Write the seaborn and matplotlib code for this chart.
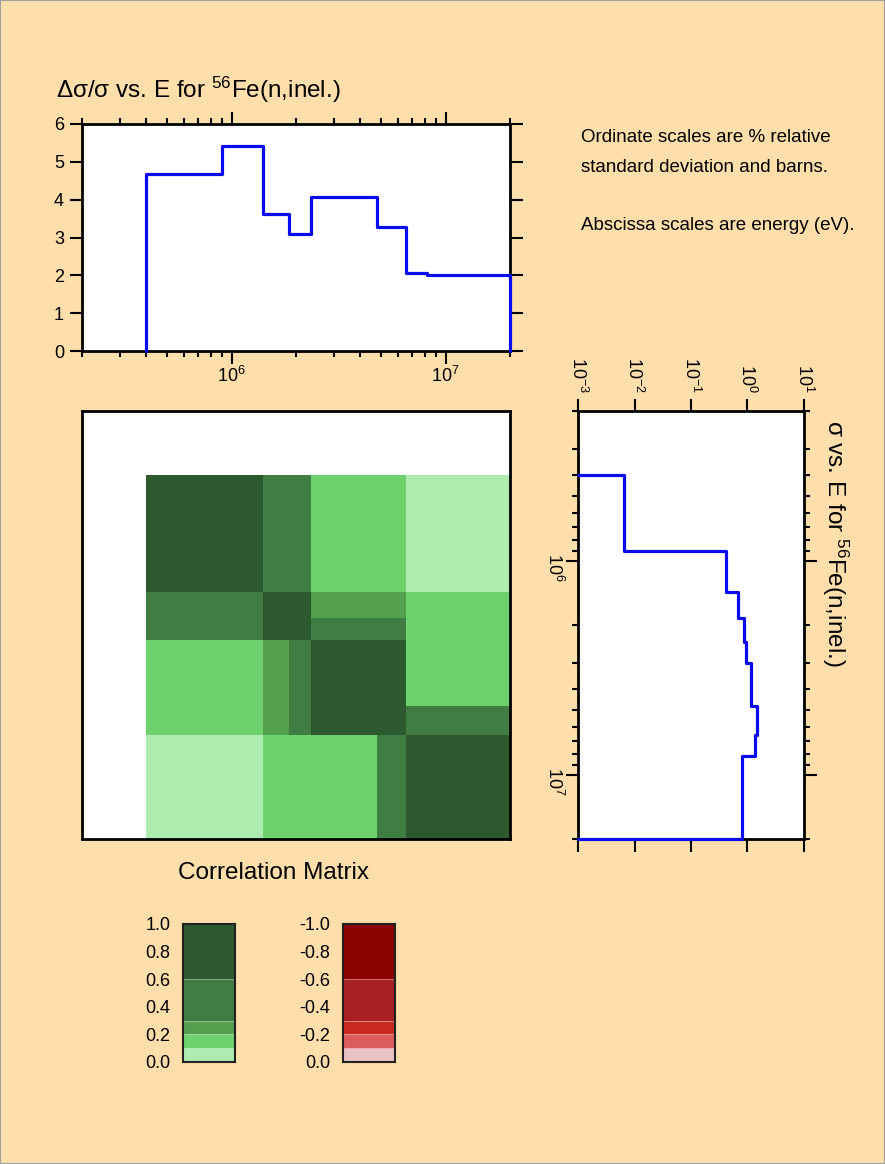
import numpy as np
import matplotlib
matplotlib.use("Agg")
import matplotlib.pyplot as plt
from matplotlib.colors import ListedColormap, BoundaryNorm
from matplotlib.ticker import LogLocator, NullLocator, NullFormatter
import seaborn as sns

# energy range of all plots (eV)
E_MIN, E_MAX = 2e5, 2e7

# % relative standard deviation per group
rsd_edges = [4e5, 9e5, 1.4e6, 1.85e6, 2.35e6, 4.8e6, 6.5e6, 8.2e6, 2e7]
rsd_values = [4.68, 5.43, 3.61, 3.10, 4.06, 3.28, 2.07, 2.00]

# cross section (barns) per group
xs_edges = [4e5, 9e5, 1.4e6, 1.85e6, 2.4e6, 3.0e6, 4.8e6, 6.5e6, 8.2e6, 2e7]
xs_values = [6.4e-3, 0.41, 0.67, 0.86, 0.93, 1.14, 1.46, 1.38, 0.80]
XS_MIN, XS_MAX = 1e-3, 1e1

# correlation matrix (rows = y groups, top to bottom)
cor_edges = [4e5, 1.4e6, 1.85e6, 2.35e6, 4.8e6, 6.5e6, 2e7]
cor_values = [
    [1.00, 0.45, 0.45, 0.15, 0.15, 0.05],
    [0.45, 1.00, 0.70, 0.25, 0.25, 0.15],
    [0.45, 0.70, 1.00, 0.45, 0.45, 0.15],
    [0.15, 0.25, 0.45, 1.00, 0.70, 0.15],
    [0.15, 0.25, 0.45, 0.70, 1.00, 0.45],
    [0.05, 0.15, 0.15, 0.15, 0.45, 1.00],
]

pos_levels = [0.0, 0.1, 0.2, 0.3, 0.6, 1.0]
pos_colors = ["#aeebae", "#6dd26d", "#52a04e", "#3f7d43", "#2c5a2e"]
neg_levels = [0.0, -0.1, -0.2, -0.3, -0.6, -1.0]
neg_colors = ["#e9c3c3", "#dc5c5c", "#c9281f", "#aa1f22", "#8b0000"]
legend_ticks = [0.0, 0.2, 0.4, 0.6, 0.8, 1.0]

BG = "#fedeaa"
LINE = "#0a0aee"

sns.set_theme(style="ticks")
plt.rcParams["font.family"] = ["Liberation Sans", "DejaVu Sans"]
plt.rcParams["mathtext.fontset"] = "custom"
plt.rcParams["mathtext.rm"] = "Liberation Sans"
plt.rcParams["mathtext.default"] = "regular"
plt.rcParams["axes.linewidth"] = 2.0
plt.rcParams["axes.edgecolor"] = "black"
plt.rcParams["text.color"] = "black"
plt.rcParams["xtick.color"] = "black"
plt.rcParams["ytick.color"] = "black"
plt.rcParams["xtick.labelcolor"] = "black"
plt.rcParams["ytick.labelcolor"] = "black"

fig = plt.figure(figsize=(8.85, 11.64), dpi=100, facecolor=BG)
W, H = 885, 1164


def box(x0, y0, x1, y1):
    # pixel box (top-left origin) -> figure rect
    return [x0 / W, 1 - y1 / H, (x1 - x0) / W, (y1 - y0) / H]


def log_ticks(axis, minor=True):
    axis.set_major_locator(LogLocator(base=10))
    if minor:
        axis.set_minor_locator(LogLocator(base=10, subs=np.arange(2, 10)))
    else:
        axis.set_minor_locator(NullLocator())
    axis.set_minor_formatter(NullFormatter())


# --- top: relative std deviation vs energy
ax1 = fig.add_axes(box(82, 124, 510, 351))
ax1.set_facecolor("white")
ax1.set_xscale("log")
sns.lineplot(x=[rsd_edges[0]] + rsd_edges, y=[0.0] + rsd_values + [0.0],
             sort=False, estimator=None, drawstyle="steps-post",
             color=LINE, lw=2.3, ax=ax1, clip_on=False, zorder=3)
ax1.set_xlim(E_MIN, E_MAX)
ax1.set_ylim(0, 6)
ax1.set_yticks(range(7))
log_ticks(ax1.xaxis)
ax1.tick_params(which="both", direction="out", top=True, right=True,
                labelsize=13, width=1.5)
ax1.tick_params(axis="x", which="major", length=9, pad=2)
ax1.tick_params(axis="x", which="minor", length=4)
ax1.tick_params(axis="y", length=9, pad=4)
ax1.set_xlabel("")
ax1.set_ylabel("")

# --- correlation matrix
ax2 = fig.add_axes(box(82, 411, 510, 839))
ax2.set_facecolor("white")
ax2.set_xscale("log")
ax2.set_yscale("log")
cmap = ListedColormap(pos_colors)
norm = BoundaryNorm(pos_levels, cmap.N)
ax2.pcolormesh(cor_edges, cor_edges, np.array(cor_values), cmap=cmap, norm=norm)
ax2.set_xlim(E_MIN, E_MAX)
ax2.set_ylim(E_MAX, E_MIN)
ax2.xaxis.set_major_locator(NullLocator())
ax2.xaxis.set_minor_locator(NullLocator())
ax2.yaxis.set_major_locator(NullLocator())
ax2.yaxis.set_minor_locator(NullLocator())

# --- right: cross section vs energy (rotated)
ax3 = fig.add_axes(box(578, 411, 804, 839))
ax3.set_facecolor("white")
ax3.set_xscale("log")
ax3.set_yscale("log")
sns.lineplot(x=[XS_MIN] + xs_values + [XS_MIN], y=[xs_edges[0]] + xs_edges,
             sort=False, estimator=None, drawstyle="steps-pre",
             color=LINE, lw=2.3, ax=ax3, clip_on=False, zorder=3)
ax3.set_xlim(XS_MIN, XS_MAX)
ax3.set_ylim(E_MAX, E_MIN)
log_ticks(ax3.xaxis, minor=False)
ax3.xaxis.set_major_locator(LogLocator(base=10, numticks=10))
log_ticks(ax3.yaxis)
ax3.tick_params(which="both", direction="out", top=True, bottom=True,
                right=True, left=True, labeltop=True, labelbottom=False,
                labelsize=13, width=1.5, labelrotation=270)
ax3.tick_params(axis="x", length=9, pad=4)
ax3.tick_params(axis="y", which="major", length=9, pad=1)
ax3.tick_params(axis="y", which="minor", length=4)
ax3.set_xlabel("")
ax3.set_ylabel("")

# --- legends
for rect, levels, colors, lim, labels in [
    (box(183, 924, 235, 1062), pos_levels, pos_colors, (0, 1),
     [f"{v:.1f}" for v in legend_ticks]),
    (box(343, 924, 395, 1062), neg_levels, neg_colors, (0, -1),
     ["0.0"] + [f"-{v:.1f}" for v in legend_ticks[1:]]),
]:
    axl = fig.add_axes(rect)
    axl.bar(0, np.diff(levels), bottom=levels[:-1], width=1, color=colors,
            edgecolor=(1, 1, 1, 0.2), linewidth=0.8)
    axl.set_xlim(-0.5, 0.5)
    axl.set_ylim(*lim)
    axl.set_xticks([])
    axl.set_yticks([np.sign(lim[1]) * v for v in legend_ticks])
    axl.set_yticklabels(labels)
    axl.tick_params(axis="y", length=0, pad=9, labelsize=13)
    for s in axl.spines.values():
        s.set_linewidth(1.5)
        s.set_color("#222222")

# --- texts
fig.text(56 / W, 1 - 98 / H, r"Δσ/σ vs. E for $^{56}$Fe(n,inel.)",
         fontsize=17.5, va="baseline")
fig.text(835 / W, 1 - 543 / H, r"σ vs. E for $^{56}$Fe(n,inel.)",
         fontsize=17.5, rotation=270, ha="center", va="center")
notes = [(137, "Ordinate scales are % relative"),
         (168, "standard deviation and barns."),
         (225, "Abscissa scales are energy (eV).")]
for ypix, txt in notes:
    fig.text(581 / W, 1 - ypix / H, txt, fontsize=13.5, va="center")
fig.text(274 / W, 1 - 873 / H, "Correlation Matrix", fontsize=17.5,
         ha="center", va="center")

fig.add_artist(plt.Rectangle((0, 0), 1, 1, transform=fig.transFigure,
                             fill=False, edgecolor="#a0a0a0", lw=1.5))

fig.savefig("out.png", dpi=100, facecolor=BG)
